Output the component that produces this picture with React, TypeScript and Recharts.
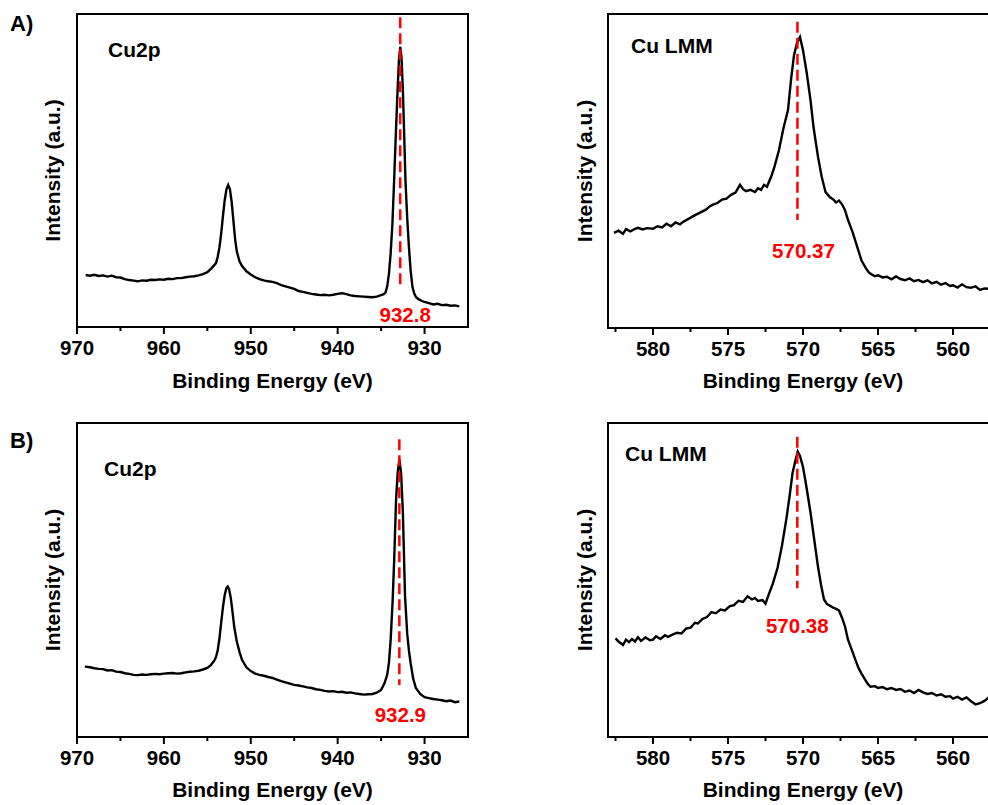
import React from "react";
import {
  LineChart,
  Line,
  XAxis,
  YAxis,
  ReferenceArea,
  ReferenceLine,
} from "recharts";

// ---- data (intensity in arbitrary units, 0 = frame bottom, 100 = frame top) ----

const cu2pEnergyA = [
  969.0, 968.5, 968.0, 967.5, 967.0, 966.5, 966.0, 965.5, 965.0, 964.5, 964.0,
  963.5, 963.0, 962.5, 962.0, 961.5, 961.0, 960.5, 960.0, 959.5, 959.0, 958.5,
  958.0, 957.5, 957.0, 956.5, 956.0, 955.5, 955.0, 954.5, 954.0, 953.8, 953.6,
  953.4, 953.2, 953.0, 952.8, 952.6, 952.4, 952.2, 952.0, 951.8, 951.6, 951.3,
  951.0, 950.5, 950.0, 949.5, 949.0, 948.5, 948.0, 947.5, 947.0, 946.5, 946.0,
  945.5, 945.0, 944.5, 944.0, 943.5, 943.0, 942.5, 942.0, 941.5, 941.0, 940.5,
  940.0, 939.5, 939.0, 938.5, 938.0, 937.5, 937.0, 936.5, 936.0, 935.5, 935.0,
  934.7, 934.5, 934.3, 934.1, 933.9, 933.7, 933.5, 933.3, 933.1, 932.95, 932.8,
  932.65, 932.5, 932.35, 932.2, 932.0, 931.8, 931.6, 931.4, 931.2, 931.0,
  930.7, 930.3, 930.0, 929.5, 929.0, 928.5, 928.0, 927.5, 927.0, 926.5, 926.0,
];
const cu2pIntensityA = [
  16.6, 16.4, 16.7, 16.3, 16.5, 16.1, 16.4, 15.9, 15.8, 15.3, 15.0, 14.8, 14.6,
  14.9, 14.8, 15.1, 15.0, 15.2, 15.1, 15.4, 15.3, 15.6, 15.6, 15.9, 16.1, 16.2,
  16.5, 16.9, 17.5, 18.8, 20.4, 22.5, 25.5, 30.0, 35.5, 40.5, 44.0, 45.4, 44.0,
  40.0, 34.0, 28.0, 24.0, 21.0, 19.5, 17.8, 16.8, 15.9, 15.3, 14.9, 14.6, 14.4,
  14.0, 13.4, 13.0, 12.6, 12.2, 11.5, 11.2, 10.9, 10.6, 10.4, 10.2, 10.3, 10.1,
  10.3, 10.6, 10.8, 10.5, 10.1, 9.9, 9.8, 9.7, 9.6, 9.5, 9.7, 10.2, 10.5, 11.0,
  12.9, 17.0, 23.6, 33.0, 47.0, 62.0, 76.0, 85.0, 89.5, 86.0, 76.0, 62.0, 47.0,
  35.0, 25.6, 18.0, 12.9, 10.8, 9.6, 8.9, 8.3, 8.0, 7.6, 7.2, 7.4, 7.0, 7.1,
  6.8, 6.9, 6.6,
];

const lmmEnergyA = [
  582.6, 582.3, 582.0, 581.8, 581.5, 581.2, 581.0, 580.7, 580.4, 580.0, 579.7,
  579.4, 579.1, 578.8, 578.5, 578.2, 578.0, 577.7, 577.4, 577.1, 576.8, 576.5,
  576.2, 576.0, 575.7, 575.4, 575.1, 574.8, 574.5, 574.2, 574.0, 573.8, 573.5,
  573.2, 573.0, 572.8, 572.6, 572.4, 572.3, 572.1, 571.9, 571.6, 571.3, 571.0,
  570.8, 570.6, 570.4, 570.2, 570.0, 569.75, 569.5, 569.3, 569.0, 568.75, 568.5,
  568.2, 568.0, 567.8, 567.6, 567.4, 567.2, 567.0, 566.7, 566.4, 566.1, 565.8,
  565.6, 565.4, 565.2, 565.0, 564.7, 564.4, 564.1, 563.8, 563.5, 563.2, 562.9,
  562.6, 562.3, 562.0, 561.7, 561.4, 561.1, 560.8, 560.5, 560.2, 560.0, 559.7,
  559.4, 559.1, 558.8, 558.5, 558.2, 557.9, 557.6,
];
const lmmIntensityA = [
  30.3, 31.0, 30.0, 31.5, 30.8, 31.6, 31.9, 31.4, 31.8, 31.6, 32.4, 32.0, 33.2,
  32.4, 33.6, 33.0, 33.8, 34.6, 35.4, 36.2, 36.9, 37.6, 38.8, 39.3, 39.8, 40.9,
  41.2, 42.4, 43.1, 45.6, 44.2, 43.6, 44.0, 43.3, 44.5, 44.0, 45.6, 45.0, 46.2,
  48.5, 51.4, 56.7, 63.7, 69.4, 79.0, 86.9, 90.8, 92.7, 88.5, 81.2, 72.6, 64.0,
  54.5, 48.1, 43.3, 41.6, 41.0, 40.0, 40.6, 39.4, 37.5, 34.4, 30.6, 26.1, 21.5,
  19.0, 17.6, 17.0, 16.5, 16.8, 16.1, 16.3, 15.5, 16.4, 15.6, 15.2, 15.8, 14.9,
  15.3, 14.6, 15.2, 14.2, 14.7, 13.8, 14.3, 13.4, 13.6, 12.9, 13.9, 13.0, 12.8,
  13.3, 12.1, 12.6, 12.5,
];

const cu2pEnergyB = [
  969.1, 968.5, 968.0, 967.5, 967.0, 966.5, 966.0, 965.5, 965.0, 964.5, 964.0,
  963.5, 963.0, 962.5, 962.0, 961.5, 961.0, 960.5, 960.0, 959.5, 959.0, 958.5,
  958.0, 957.5, 957.0, 956.5, 956.0, 955.5, 955.0, 954.6, 954.2, 954.0, 953.8,
  953.6, 953.4, 953.2, 953.0, 952.8, 952.65, 952.5, 952.3, 952.1, 951.9, 951.6,
  951.3, 951.0, 950.5, 950.0, 949.5, 949.0, 948.5, 948.0, 947.5, 947.0, 946.5,
  946.0, 945.5, 945.0, 944.5, 944.0, 943.5, 943.0, 942.5, 942.0, 941.5, 941.0,
  940.5, 940.0, 939.5, 939.0, 938.5, 938.0, 937.5, 937.0, 936.5, 936.0, 935.5,
  935.0, 934.6, 934.3, 934.1, 933.9, 933.67, 933.5, 933.28, 933.1, 932.9, 932.7,
  932.5, 932.25, 932.0, 931.8, 931.6, 931.3, 931.0, 930.5, 930.0, 929.5, 929.0,
  928.5, 928.0, 927.5, 927.0, 926.5, 926.0,
];
const cu2pIntensityB = [
  22.4, 22.2, 21.9, 21.7, 21.6, 21.2, 21.3, 20.8, 20.7, 20.3, 20.1, 19.8, 19.7,
  19.9, 19.8, 20.0, 20.1, 20.0, 20.2, 20.3, 20.4, 20.2, 20.3, 20.6, 20.8, 20.9,
  21.1, 21.5, 22.0, 22.9, 24.3, 25.5, 27.7, 31.5, 36.6, 41.4, 45.2, 47.5, 47.9,
  47.1, 44.3, 39.8, 35.0, 30.3, 27.1, 24.5, 22.2, 21.0, 20.2, 19.8, 19.5, 19.1,
  18.8, 18.3, 17.8, 17.4, 17.0, 16.6, 16.4, 16.1, 15.8, 15.6, 15.2, 15.0, 14.7,
  14.5, 14.6, 14.3, 14.4, 14.1, 14.2, 13.9, 13.7, 13.5, 13.6, 13.7, 14.1, 15.0,
  17.2, 19.8, 23.6, 31.0, 43.6, 56.0, 75.5, 84.0, 88.5, 84.0, 72.0, 45.0, 33.0,
  27.5, 23.5, 18.5, 15.6, 13.7, 12.7, 12.4, 12.1, 11.9, 11.7, 11.4, 11.6, 11.1,
  11.3,
];

const lmmEnergyB = [
  582.5, 582.3, 582.0, 581.8, 581.6, 581.4, 581.2, 581.0, 580.8, 580.5, 580.2,
  580.0, 579.8, 579.5, 579.2, 579.0, 578.7, 578.4, 578.1, 577.8, 577.5, 577.2,
  577.0, 576.7, 576.4, 576.1, 575.8, 575.5, 575.2, 574.9, 574.6, 574.3, 574.0,
  573.7, 573.4, 573.2, 573.0, 572.7, 572.5, 572.3, 572.0, 571.7, 571.4, 571.1,
  570.9, 570.7, 570.5, 570.35, 570.2, 570.0, 569.8, 569.5, 569.2, 569.0, 568.8,
  568.6, 568.4, 568.2, 568.0, 567.8, 567.6, 567.4, 567.2, 567.0, 566.7, 566.5,
  566.3, 566.1, 565.9, 565.7, 565.5, 565.2, 565.0, 564.7, 564.4, 564.1, 563.8,
  563.5, 563.2, 562.9, 562.6, 562.3, 562.0, 561.7, 561.4, 561.1, 560.8, 560.5,
  560.2, 560.0, 559.7, 559.4, 559.1, 558.8, 558.5, 558.2, 557.9, 557.6,
];
const lmmIntensityB = [
  31.4, 30.4, 29.3, 31.0, 30.2, 31.2, 30.4, 31.8, 30.6, 31.7, 30.8, 31.0, 32.1,
  31.2, 32.4, 31.9, 32.6, 33.2, 33.0, 34.5, 34.8, 36.4, 36.2, 37.6, 38.2, 39.8,
  39.4, 40.6, 40.3, 41.6, 42.0, 43.4, 43.0, 44.8, 43.8, 44.3, 43.3, 43.6, 42.5,
  45.2, 49.0, 53.8, 61.0, 69.7, 76.5, 84.0, 88.2, 90.9, 89.5, 86.0, 80.5, 71.5,
  61.1, 54.2, 48.5, 43.8, 42.3, 41.8, 41.2, 40.8, 40.3, 38.0, 35.2, 31.0, 27.1,
  24.5, 22.0, 20.2, 18.6, 17.0, 16.0, 16.2, 15.6, 15.9, 15.2, 15.6, 15.0, 15.3,
  14.4, 14.8, 14.0, 15.0, 14.2, 13.7, 14.0, 13.2, 13.6, 12.8, 13.0, 12.2, 12.8,
  11.9, 12.6, 11.4, 10.4, 10.8, 11.5, 12.7,
];

const cu2pTicks = [930, 935, 940, 945, 950, 955, 960, 965, 970];
const cu2pMajorTicks = [930, 940, 950, 960, 970];
const lmmTicks = [560, 562.5, 565, 567.5, 570, 572.5, 575, 577.5, 580, 582.5];
const lmmMajorTicks = [560, 565, 570, 575, 580];

const zip = (xs: number[], ys: number[]) => xs.map((x, i) => ({ x, y: ys[i] }));

const FONT = "'Liberation Sans', Arial, Helvetica, sans-serif";
const RED = "#ff0000";

const AxisTick = (props: any) => {
  const { x, y, payload, major } = props;
  const isMajor = major.includes(payload.value);
  return (
    <g>
      <line x1={x} x2={x} y1={y} y2={y + (isMajor ? 7 : 4)} stroke="#000" strokeWidth={2} />
      {isMajor && (
        <text x={x} y={y + 27.5} textAnchor="middle" fontSize={20.5} fontWeight="bold" fill="#000">
          {payload.value}
        </text>
      )}
    </g>
  );
};

interface PanelProps {
  left: number;
  top: number;
  width: number;
  height: number;
  plot: { l: number; t: number; r: number; b: number };
  domain: [number, number];
  ticks: number[];
  major: number[];
  data: { x: number; y: number }[];
  peak: { x: number; y1: number; y2: number; text: string; offset: number; dx: number };
  xLabelOffset: number;
  yLabelOffset: number;
}

const Panel: React.FC<PanelProps> = ({
  left,
  top,
  width,
  height,
  plot,
  domain,
  ticks,
  major,
  data,
  peak,
  xLabelOffset,
  yLabelOffset,
}) => {
  return (
    <div style={{ position: "absolute", left, top }}>
      <LineChart
        width={width}
        height={height}
        data={data}
        margin={{ top: plot.t - top, right: width - (plot.r - left), bottom: 0, left: 0 }}
      >
        <XAxis
          dataKey="x"
          type="number"
          domain={domain}
          reversed
          allowDataOverflow
          ticks={ticks}
          interval={0}
          height={height - (plot.b - top)}
          tickSize={0}
          tickMargin={0}
          axisLine={false}
          tickLine={false}
          tick={(p: any) => <AxisTick {...p} major={major} />}
          label={{
            value: "Binding Energy (eV)",
            position: "insideBottom",
            offset: xLabelOffset,
            fontSize: 21,
            fontWeight: "bold",
            fill: "#000",
          }}
        />
        <YAxis
          type="number"
          domain={[0, 100]}
          width={plot.l - left}
          tick={false}
          axisLine={false}
          tickLine={false}
          label={{
            value: "Intensity (a.u.)",
            angle: -90,
            position: "insideLeft",
            offset: yLabelOffset,
            fontSize: 21,
            fontWeight: "bold",
            fill: "#000",
            style: { textAnchor: "middle" },
          }}
        />
        <ReferenceArea
          x1={domain[0]}
          x2={domain[1]}
          y1={0}
          y2={100}
          fill="none"
          fillOpacity={0}
          stroke="#000"
          strokeWidth={2}
          ifOverflow="visible"
        />
        <Line
          dataKey="y"
          type="linear"
          stroke="#000"
          strokeWidth={2.4}
          dot={false}
          activeDot={false}
          isAnimationActive={false}
        />
        <ReferenceLine
          segment={[
            { x: peak.x, y: peak.y1 },
            { x: peak.x, y: peak.y2 },
          ]}
          stroke={RED}
          strokeWidth={2.5}
          strokeDasharray="11 5"
          ifOverflow="visible"
          label={{
            value: peak.text,
            position: "bottom",
            offset: peak.offset,
            dx: peak.dx,
            fill: RED,
            fontSize: 20.5,
            fontWeight: "bold",
          }}
        />
      </LineChart>
    </div>
  );
};

const App: React.FC = () => {
  return (
    <div
      style={{
        position: "fixed",
        left: 0,
        top: 0,
        width: 988,
        height: 805,
        overflow: "hidden",
        background: "#fff",
        fontFamily: FONT,
      }}
    >
      <Panel
        left={0}
        top={0}
        width={494}
        height={400}
        plot={{ l: 77, t: 14, r: 468, b: 327 }}
        domain={[925, 970]}
        ticks={cu2pTicks}
        major={cu2pMajorTicks}
        data={zip(cu2pEnergyA, cu2pIntensityA)}
        peak={{ x: 932.8, y1: 99, y2: 12.8, text: "932.8", offset: 21, dx: 5 }}
        xLabelOffset={12}
        yLabelOffset={53}
      />
      <Panel
        left={494}
        top={0}
        width={520}
        height={400}
        plot={{ l: 608, t: 14, r: 998, b: 328 }}
        domain={[557, 583]}
        ticks={lmmTicks}
        major={lmmMajorTicks}
        data={zip(lmmEnergyA, lmmIntensityA)}
        peak={{ x: 570.37, y1: 97.5, y2: 34.4, text: "570.37", offset: 23, dx: 6 }}
        xLabelOffset={12}
        yLabelOffset={91}
      />
      <Panel
        left={0}
        top={400}
        width={494}
        height={405}
        plot={{ l: 77, t: 423, r: 468, b: 737 }}
        domain={[925, 970]}
        ticks={cu2pTicks}
        major={cu2pMajorTicks}
        data={zip(cu2pEnergyB, cu2pIntensityB)}
        peak={{ x: 932.9, y1: 94.8, y2: 16.6, text: "932.9", offset: 23, dx: 1 }}
        xLabelOffset={8}
        yLabelOffset={53}
      />
      <Panel
        left={494}
        top={400}
        width={520}
        height={405}
        plot={{ l: 608, t: 423, r: 998, b: 737 }}
        domain={[557, 583]}
        ticks={lmmTicks}
        major={lmmMajorTicks}
        data={zip(lmmEnergyB, lmmIntensityB)}
        peak={{ x: 570.38, y1: 95.6, y2: 47.4, text: "570.38", offset: 30, dx: 0 }}
        xLabelOffset={8}
        yLabelOffset={91}
      />
      <svg
        width={988}
        height={805}
        style={{ position: "absolute", left: 0, top: 0, pointerEvents: "none" }}
      >
        <g fontWeight="bold" fill="#000">
          <text x={10} y={30.5} fontSize={22}>A)</text>
          <text x={10} y={448} fontSize={22}>B)</text>
          <text x={108} y={57} fontSize={21}>Cu2p</text>
          <text x={631} y={53} fontSize={21}>Cu LMM</text>
          <text x={104} y={476} fontSize={21}>Cu2p</text>
          <text x={625} y={461} fontSize={21}>Cu LMM</text>
        </g>
      </svg>
    </div>
  );
};

export default App;
